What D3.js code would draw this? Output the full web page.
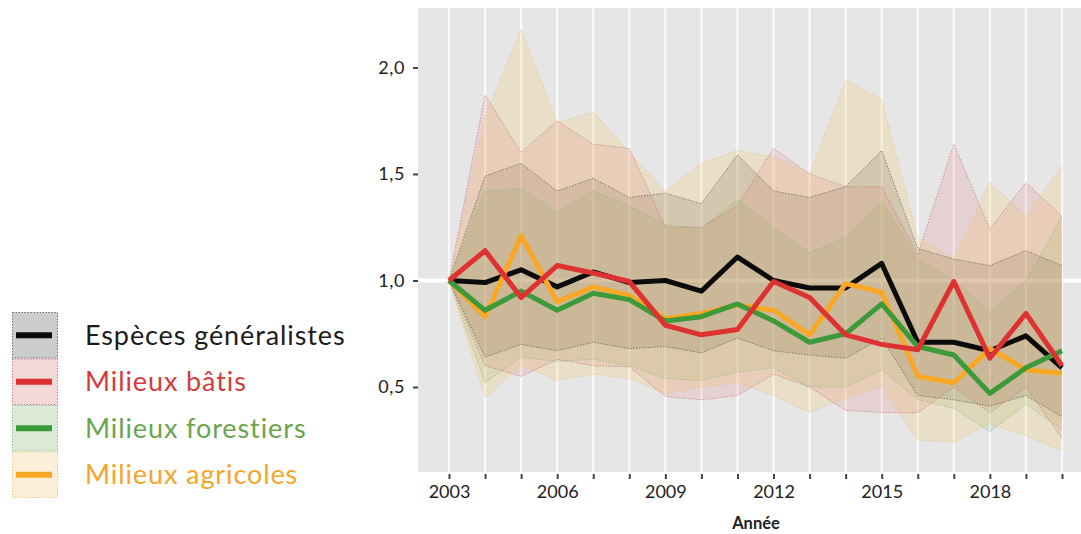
<!DOCTYPE html>
<html>
<head>
<meta charset="utf-8">
<script src="https://cdn.jsdelivr.net/npm/d3@7"></script>
<style>
	body { margin: 0; background: #fff; }
	svg { display: block; font-family: Lato, "Noto Sans", sans-serif; }
</style>
</head>
<body>
<svg id="chart" width="1081" height="534"></svg>
<script>
var years = [2003, 2004, 2005, 2006, 2007, 2008, 2009, 2010, 2011, 2012, 2013, 2014, 2015, 2016, 2017, 2018, 2019, 2020];
var yearLabels = [2003, 2006, 2009, 2012, 2015, 2018];
var yTicks = [0.5, 1.0, 1.5, 2.0];
var seriesNames = ['Espèces généralistes', 'Milieux bâtis', 'Milieux forestiers', 'Milieux agricoles'];

// indices, ligne + bornes basse / haute
var generalistes = [1.0, 0.99, 1.05, 0.97, 1.04, 0.99, 1.0, 0.95, 1.11, 1.0, 0.965, 0.965, 1.08, 0.71, 0.71, 0.67, 0.74, 0.59];
var generalistesLow = [1.0, 0.64, 0.70, 0.67, 0.71, 0.68, 0.69, 0.66, 0.73, 0.67, 0.65, 0.635, 0.73, 0.46, 0.44, 0.41, 0.46, 0.36];
var generalistesHigh = [1.0, 1.49, 1.55, 1.42, 1.48, 1.39, 1.41, 1.36, 1.59, 1.42, 1.39, 1.44, 1.61, 1.15, 1.10, 1.07, 1.14, 1.07];

var batis = [1.0, 1.14, 0.92, 1.07, 1.035, 0.995, 0.79, 0.745, 0.77, 0.995, 0.92, 0.745, 0.70, 0.675, 0.995, 0.635, 0.845, 0.60];
var batisLow = [1.0, 0.60, 0.55, 0.63, 0.60, 0.595, 0.455, 0.44, 0.46, 0.56, 0.50, 0.39, 0.38, 0.38, 0.50, 0.38, 0.50, 0.26];
var batisHigh = [1.0, 1.87, 1.60, 1.75, 1.64, 1.62, 1.25, 1.25, 1.35, 1.62, 1.50, 1.44, 1.44, 1.12, 1.64, 1.24, 1.46, 1.30];

var forestiers = [1.0, 0.86, 0.95, 0.86, 0.94, 0.91, 0.81, 0.83, 0.89, 0.81, 0.71, 0.75, 0.89, 0.69, 0.65, 0.47, 0.59, 0.67];
var forestiersLow = [1.0, 0.52, 0.64, 0.62, 0.63, 0.60, 0.54, 0.53, 0.57, 0.59, 0.50, 0.50, 0.58, 0.44, 0.40, 0.29, 0.42, 0.30];
var forestiersHigh = [1.0, 1.42, 1.43, 1.32, 1.42, 1.35, 1.26, 1.245, 1.38, 1.25, 1.13, 1.20, 1.37, 1.10, 1.00, 0.85, 1.00, 1.30];

var agricoles = [1.0, 0.83, 1.21, 0.90, 0.97, 0.93, 0.82, 0.845, 0.885, 0.86, 0.745, 0.985, 0.945, 0.55, 0.52, 0.68, 0.58, 0.565];
var agricolesLow = [1.0, 0.45, 0.60, 0.53, 0.56, 0.54, 0.47, 0.50, 0.52, 0.46, 0.38, 0.45, 0.50, 0.25, 0.24, 0.33, 0.27, 0.20];
var agricolesHigh = [1.0, 1.77, 2.18, 1.74, 1.79, 1.60, 1.42, 1.55, 1.61, 1.58, 1.50, 1.94, 1.85, 1.20, 1.10, 1.46, 1.30, 1.54];

var series = [
	{ name: seriesNames[0], values: generalistes, low: generalistesLow, high: generalistesHigh,
		line: '#0b0b0b', text: '#1c1c1c', fill: 'rgb(95,90,80)', fillOpacity: 0.22, border: '#5a5a5a', key: '#cbcdcd' },
	{ name: seriesNames[1], values: batis, low: batisLow, high: batisHigh,
		line: '#de3232', text: '#d63a3e', fill: 'rgb(225,80,90)', fillOpacity: 0.14, border: '#c0707a', key: '#f3d8d8' },
	{ name: seriesNames[2], values: forestiers, low: forestiersLow, high: forestiersHigh,
		line: '#3c9a3a', text: '#6aa54e', fill: 'rgb(110,170,80)', fillOpacity: 0.15, border: '#8cb87a', key: '#dce9d7' },
	{ name: seriesNames[3], values: agricoles, low: agricolesLow, high: agricolesHigh,
		line: '#f9a825', text: '#f4a52c', fill: 'rgb(245,200,110)', fillOpacity: 0.25, border: '#e6c28a', key: '#fbefda' }
];

var panel = { left: 418, right: 1093, top: 8, bottom: 472 };
var font = 'Lato, "Noto Sans", sans-serif';

var svg = d3.select('#chart');

var x = d3.scaleLinear().domain([2002.14, 2020.86]).range([panel.left, panel.right]);
var y = d3.scaleLinear().domain([0.101, 2.279]).range([panel.bottom, panel.top]);

svg.append('clipPath').attr('id', 'panel-clip')
	.append('rect')
	.attr('x', panel.left).attr('y', panel.top)
	.attr('width', panel.right - panel.left).attr('height', panel.bottom - panel.top);

svg.append('rect')
	.attr('x', panel.left).attr('y', panel.top)
	.attr('width', panel.right - panel.left).attr('height', panel.bottom - panel.top)
	.attr('fill', '#e6e6e6');

var plot = svg.append('g').attr('clip-path', 'url(#panel-clip)');

// grille verticale
plot.selectAll('line.grid')
	.data(years)
	.enter().append('line')
	.attr('class', 'grid')
	.attr('x1', function(d) { return x(d); })
	.attr('x2', function(d) { return x(d); })
	.attr('y1', panel.top).attr('y2', panel.bottom)
	.attr('stroke', '#fbfbfb')
	.attr('stroke-width', 2.2);

// ligne de référence 1,0
plot.append('line')
	.attr('x1', panel.left).attr('x2', panel.right)
	.attr('y1', y(1)).attr('y2', y(1))
	.attr('stroke', '#ffffff')
	.attr('stroke-width', 4);

var area = d3.area()
	.x(function(d) { return x(d.year); })
	.y0(function(d) { return y(d.low); })
	.y1(function(d) { return y(d.high); });

var line = d3.line()
	.x(function(d) { return x(d.year); })
	.y(function(d) { return y(d.value); });

function rows(s) {
	return years.map(function(yr, i) {
		return { year: yr, value: s.values[i], low: s.low[i], high: s.high[i] };
	});
}

series.forEach(function(s) {
	plot.append('path')
		.datum(rows(s))
		.attr('d', area)
		.attr('fill', s.fill)
		.attr('fill-opacity', s.fillOpacity)
		.attr('stroke', 'none');
});

series.forEach(function(s) {
	var r = rows(s);
	[d3.line().x(function(d) { return x(d.year); }).y(function(d) { return y(d.low); }),
	 d3.line().x(function(d) { return x(d.year); }).y(function(d) { return y(d.high); })].forEach(function(edge) {
		plot.append('path')
			.datum(r)
			.attr('d', edge)
			.attr('fill', 'none')
			.attr('stroke', s.border)
			.attr('stroke-width', 0.9)
			.attr('stroke-dasharray', '1.5,1.5')
			.attr('stroke-opacity', 0.8);
	});
});

[0, 3, 2, 1].forEach(function(k) {
	var s = series[k];
	plot.append('path')
		.datum(rows(s))
		.attr('d', line)
		.attr('fill', 'none')
		.attr('stroke', s.line)
		.attr('stroke-width', 5)
		.attr('stroke-linejoin', 'round');
});

// axes
var yAxis = svg.append('g')
	.attr('transform', 'translate(' + panel.left + ',0)')
	.call(d3.axisLeft(y).tickValues(yTicks).tickSize(5).tickPadding(8)
		.tickFormat(function(d) { return d3.format('.1f')(d).replace('.', ','); }));
yAxis.select('.domain').remove();
yAxis.selectAll('line').attr('stroke', '#444').attr('stroke-width', 2);
yAxis.selectAll('text').attr('font-size', 18).attr('letter-spacing', 0.6)
	.attr('fill', '#222').attr('font-family', font);

var xAxis = svg.append('g')
	.attr('transform', 'translate(0,' + panel.bottom + ')')
	.call(d3.axisBottom(x).tickValues(years).tickSize(5).tickPadding(8)
		.tickFormat(function(d) { return yearLabels.indexOf(d) >= 0 ? d : ''; }));
xAxis.select('.domain').remove();
xAxis.selectAll('line').attr('stroke', '#444').attr('stroke-width', 2).attr('transform', 'translate(0,2)');
xAxis.selectAll('text').attr('font-size', 18).attr('fill', '#222').attr('font-family', font);

svg.append('text')
	.attr('x', 756).attr('y', 529)
	.attr('text-anchor', 'middle')
	.attr('font-size', 16.5)
	.attr('font-weight', 700)
	.attr('fill', '#222')
	.text('Année');

// légende
var legend = svg.append('g').attr('transform', 'translate(12,312)');
var keyH = 46.5;
series.forEach(function(s, i) {
	var g = legend.append('g').attr('transform', 'translate(0,' + (i * keyH) + ')');
	g.append('rect')
		.attr('x', 0.5).attr('y', 0.5)
		.attr('width', 45).attr('height', keyH - 1)
		.attr('fill', s.key)
		.attr('stroke', s.border)
		.attr('stroke-width', 0.9)
		.attr('stroke-dasharray', '1.5,1.5');
	g.append('line')
		.attr('x1', 4).attr('x2', 40)
		.attr('y1', keyH / 2).attr('y2', keyH / 2)
		.attr('stroke', s.line)
		.attr('stroke-width', 6);
	g.append('text')
		.attr('x', 73).attr('y', keyH / 2)
		.attr('dy', '0.35em')
		.attr('font-size', 27)
		.attr('letter-spacing', 0.9)
		.attr('fill', s.text)
		.text(s.name);
});
</script>
</body>
</html>
